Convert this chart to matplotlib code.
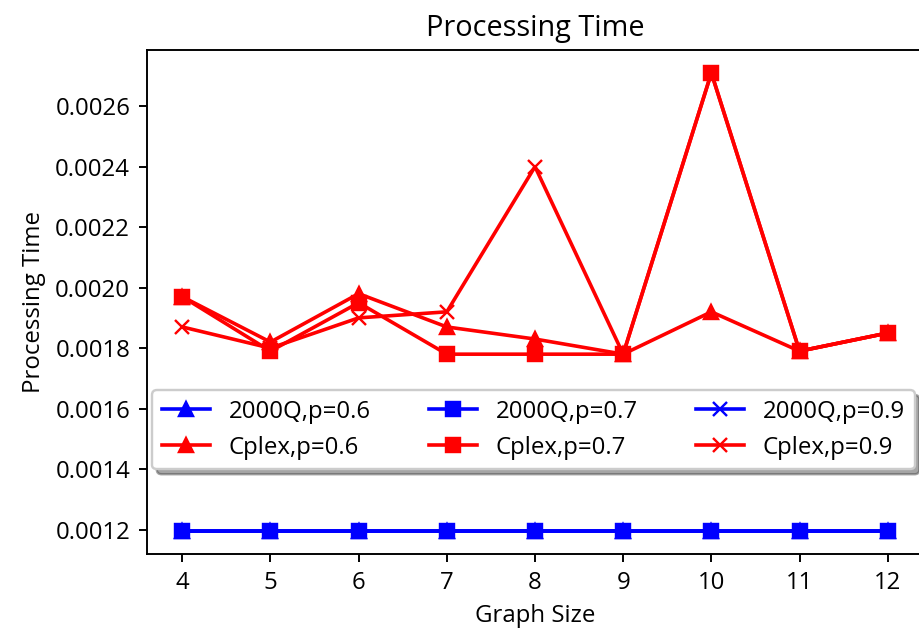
import numpy as np
import matplotlib
matplotlib.use('Agg')
import matplotlib.pyplot as plt

plt.rcParams['font.family'] = ['Open Sans', 'DejaVu Sans']

graph_size = [4, 5, 6, 7, 8, 9, 10, 11, 12]

# D-Wave 2000Q times (all three overlap)
q2000_p06 = [0.001195] * 9
q2000_p07 = [0.001195] * 9
q2000_p09 = [0.001195] * 9

# Cplex times
cplex_p06 = [0.00197, 0.00182, 0.00198, 0.00187, 0.00183, 0.00178, 0.00192, 0.00179, 0.00185]
cplex_p07 = [0.00197, 0.00179, 0.00195, 0.00178, 0.00178, 0.00178, 0.00271, 0.00179, 0.00185]
cplex_p09 = [0.00187, 0.00180, 0.00190, 0.00192, 0.00240, 0.00178, 0.00271, 0.00179, 0.00185]

DPI = 173
fig = plt.figure(figsize=(920 / DPI, 628 / DPI), dpi=DPI)
ax = fig.add_axes([147 / 920, 1 - 554 / 628, 776 / 920, 504 / 628])

ax.plot(graph_size, q2000_p06, color='blue', marker='^', label='2000Q,p=0.6')
ax.plot(graph_size, cplex_p06, color='red', marker='^', label='Cplex,p=0.6')
ax.plot(graph_size, q2000_p07, color='blue', marker='s', label='2000Q,p=0.7')
ax.plot(graph_size, cplex_p07, color='red', marker='s', label='Cplex,p=0.7')
ax.plot(graph_size, q2000_p09, color='blue', marker='x', label='2000Q,p=0.9')
ax.plot(graph_size, cplex_p09, color='red', marker='x', label='Cplex,p=0.9')

ax.set_xticks(graph_size)
ax.set_title('Processing Time')
ax.set_xlabel('Graph Size')
ax.set_ylabel('Processing Time')

ax.legend(ncol=3, shadow=True, loc='upper left', bbox_to_anchor=(0.0064, 0.325),
          borderaxespad=0, columnspacing=2.4)

fig.savefig('out.png', dpi=DPI)
plt.close()
